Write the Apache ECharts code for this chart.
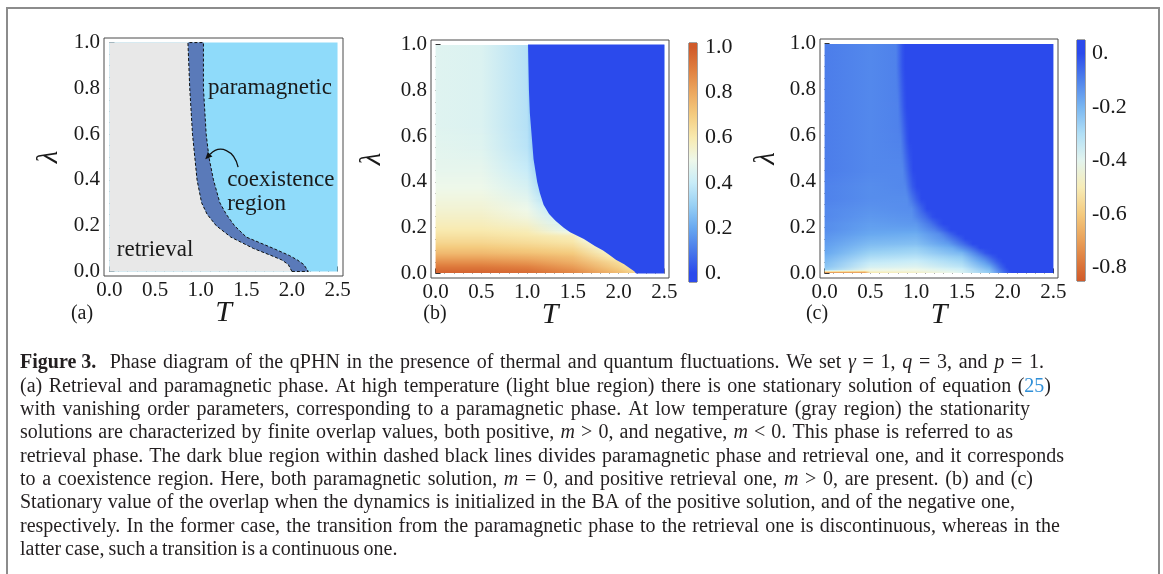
<!DOCTYPE html>
<html>
<head>
<meta charset="utf-8">
<title>Figure 3</title>
<script src="https://cdn.jsdelivr.net/npm/echarts@6.0.0/dist/echarts.min.js"></script>
<style>
  html, body { margin: 0; padding: 0; background: #fff; }
  #chart { width: 1163px; height: 574px; }
</style>
</head>
<body>
<div id="chart"></div>
<script>
var FONT = 'Liberation Serif';

// ticks of the T and lambda frames
var xTicks = [0, 0.5, 1, 1.5, 2, 2.5];
var xMinor = [0.1, 0.2, 0.3, 0.4, 0.6, 0.7, 0.8, 0.9, 1.1, 1.2, 1.3, 1.4, 1.6, 1.7, 1.8, 1.9, 2.1, 2.2, 2.3, 2.4];
var yTicks = [0, 0.2, 0.4, 0.6, 0.8, 1];
var yMinor = [0.05, 0.1, 0.15, 0.25, 0.3, 0.35, 0.45, 0.5, 0.55, 0.65, 0.7, 0.75, 0.85, 0.9, 0.95];
var cbTicksB = [0, 0.2, 0.4, 0.6, 0.8, 1];
var cbTicksC = [-0.8, -0.6, -0.4, -0.2, 0];

// (a) coexistence band: T of its left / right edge at each lambda
var lamA   = [0,    0.03, 0.05, 0.07, 0.10, 0.15, 0.20, 0.25, 0.30, 0.40, 0.50,  0.60, 0.80, 1.00];
var leftA  = [2.00, 1.96, 1.89, 1.77, 1.58, 1.33, 1.17, 1.07, 1.01, 0.96, 0.935, 0.91, 0.88, 0.86];
var rightA = [2.18, 2.13, 2.06, 1.97, 1.80, 1.50, 1.37, 1.28, 1.21, 1.14, 1.09,  1.06, 1.03, 1.03];

// (b) edge of the m = 0 region, and overlap m in strips between successive lambdas
var lamB  = [0, 0.01, 0.02, 0.04, 0.06, 0.08, 0.10, 0.12, 0.15, 0.18, 0.20, 0.23, 0.26, 0.30, 0.35, 0.40, 0.50, 0.60, 0.70, 0.80, 0.90, 1.00];
var edgeB = [2.19, 2.17, 2.13, 2.06, 1.97, 1.90, 1.83, 1.74, 1.62, 1.47, 1.40, 1.31, 1.24, 1.18, 1.14, 1.11, 1.07, 1.05, 1.03, 1.02, 1.015, 1.01];
var nodesB = [0, 0.5, 1.0, 1.5, 2.0];   // last column of mB = value at the edge
var mB = [
  [0.97, 0.97, 0.95, 0.88, 0.74, 0.66],
  [0.95, 0.95, 0.93, 0.86, 0.71, 0.64],
  [0.92, 0.92, 0.90, 0.83, 0.68, 0.62],
  [0.86, 0.86, 0.84, 0.78, 0.64, 0.60],
  [0.80, 0.80, 0.78, 0.74, null, 0.58],
  [0.75, 0.75, 0.73, 0.70, null, 0.56],
  [0.71, 0.71, 0.69, 0.66, null, 0.54],
  [0.67, 0.67, 0.65, 0.62, null, 0.52],
  [0.63, 0.63, 0.61, 0.58, null, 0.49],
  [0.60, 0.60, 0.58, null, null, 0.46],
  [0.58, 0.58, 0.55, null, null, 0.44],
  [0.56, 0.56, 0.52, null, null, 0.42],
  [0.54, 0.54, 0.50, null, null, 0.40],
  [0.52, 0.52, 0.47, null, null, 0.37],
  [0.50, 0.50, 0.44, null, null, 0.35],
  [0.48, 0.48, 0.40, null, null, 0.32],
  [0.47, 0.46, 0.37, null, null, 0.30],
  [0.46, 0.45, 0.36, null, null, 0.30],
  [0.46, 0.45, 0.36, null, null, 0.30],
  [0.46, 0.45, 0.36, null, null, 0.30],
  [0.46, 0.45, 0.36, null, null, 0.30]
];

// (c) overlap m as [T, m] pairs, one list per lambda strip
var lamC = [0, 0.006, 0.02, 0.04, 0.06, 0.08, 0.10, 0.12, 0.14, 0.16, 0.18, 0.20, 0.23, 0.26, 0.30, 0.35, 0.40, 0.50, 0.65, 0.80, 1.00];
var mC = [
  [[0, -0.78], [0.44, -0.74], [0.5, -0.52], [1.0, -0.48], [1.4, -0.42], [1.8, -0.25], [1.98, -0.05], [2.05, 0]],
  [[0, -0.26], [0.5, -0.42], [1.0, -0.43], [1.5, -0.36], [1.8, -0.22], [1.95, -0.05], [2.02, 0]],
  [[0, -0.23], [0.5, -0.37], [1.0, -0.39], [1.5, -0.32], [1.8, -0.18], [1.92, -0.05], [1.99, 0]],
  [[0, -0.21], [0.5, -0.33], [1.0, -0.35], [1.5, -0.28], [1.75, -0.15], [1.88, -0.04], [1.95, 0]],
  [[0, -0.19], [0.5, -0.29], [1.0, -0.31], [1.5, -0.24], [1.7, -0.12], [1.83, -0.03], [1.9, 0]],
  [[0, -0.17], [0.5, -0.26], [1.0, -0.28], [1.5, -0.20], [1.65, -0.10], [1.76, -0.02], [1.83, 0]],
  [[0, -0.16], [0.5, -0.23], [1.0, -0.25], [1.4, -0.18], [1.58, -0.08], [1.7, 0]],
  [[0, -0.15], [0.5, -0.21], [1.0, -0.22], [1.35, -0.15], [1.52, -0.06], [1.62, 0]],
  [[0, -0.14], [0.5, -0.19], [1.0, -0.20], [1.3, -0.13], [1.45, -0.05], [1.54, 0]],
  [[0, -0.13], [0.5, -0.17], [1.0, -0.18], [1.25, -0.12], [1.38, -0.04], [1.46, 0]],
  [[0, -0.12], [0.5, -0.16], [1.0, -0.16], [1.2, -0.10], [1.32, -0.03], [1.38, 0]],
  [[0, -0.12], [0.5, -0.15], [1.0, -0.14], [1.15, -0.08], [1.25, -0.02], [1.3, 0]],
  [[0, -0.11], [0.5, -0.14], [0.95, -0.13], [1.1, -0.06], [1.18, -0.01], [1.22, 0]],
  [[0, -0.11], [0.5, -0.13], [0.95, -0.12], [1.05, -0.05], [1.12, 0]],
  [[0, -0.10], [0.5, -0.12], [0.9, -0.12], [1.0, -0.04], [1.06, 0]],
  [[0, -0.10], [0.5, -0.12], [0.88, -0.11], [0.96, -0.03], [1.01, 0]],
  [[0, -0.09], [0.5, -0.11], [0.85, -0.11], [0.93, -0.03], [0.97, 0]],
  [[0, -0.09], [0.5, -0.11], [0.83, -0.10], [0.9, -0.02], [0.93, 0]],
  [[0, -0.09], [0.5, -0.11], [0.8, -0.10], [0.87, -0.02], [0.9, 0]],
  [[0, -0.09], [0.5, -0.11], [0.78, -0.10], [0.85, -0.02], [0.88, 0]]
];

// colour bar samples
var cbValsB = [-0.04, 0, 0.1, 0.2, 0.3, 0.4, 0.5, 0.6, 0.7, 0.8, 0.9, 1.0, 1.02];
var cbValsC = [-0.85, -0.8, -0.7, -0.6, -0.5, -0.4, -0.3, -0.2, -0.1, 0, 0.05];

// Mathematica-like TemperatureMap
var tempMap = [
  [0.0, '#2b4aec'], [0.1, '#4a7aea'], [0.2, '#68a8f0'], [0.3, '#98d0f4'], [0.4, '#c8ecf8'],
  [0.5, '#eef8ea'], [0.6, '#f8eab0'], [0.7, '#f4cc80'], [0.8, '#eca860'], [0.9, '#e08040'], [1.0, '#d05a2a']
];

var colA = { para: '#8fdbfa', retr: '#e8e8e8', band: '#5a7ab9' };

function rgbOf(h) {
  return [parseInt(h.substr(1, 2), 16), parseInt(h.substr(3, 2), 16), parseInt(h.substr(5, 2), 16)];
}
function tempColor(t) {
  t = Math.max(0, Math.min(1, t));
  for (var i = 1; i < tempMap.length; i++) {
    if (t <= tempMap[i][0]) {
      var a = tempMap[i - 1], b = tempMap[i];
      var f = (t - a[0]) / (b[0] - a[0]);
      var ca = rgbOf(a[1]), cb = rgbOf(b[1]);
      return 'rgb(' + [0, 1, 2].map(function (k) { return Math.round(ca[k] + f * (cb[k] - ca[k])); }).join(',') + ')';
    }
  }
  return tempMap[tempMap.length - 1][1];
}
function colorB(m) { return tempColor(m); }
function colorC(m) { return tempColor(-m / 0.85); }

var frames = [
  { left: 104, top: 38, width: 239, height: 238, xMin: -0.06, xMax: 2.56, lamGap: 40 },
  { left: 431, top: 40, width: 238, height: 238, xMin: -0.05, xMax: 2.55, lamGap: 44 },
  { left: 820, top: 39, width: 238, height: 239, xMin: -0.05, xMax: 2.55, lamGap: 39 }
];

var grids = [], xAxes = [], yAxes = [];
var tickLine = { color: '#333', width: 1 };
var labelStyle = { fontFamily: FONT, fontSize: 21, color: '#1a1a1a' };

frames.forEach(function (f, g) {
  grids.push({ left: f.left, top: f.top, width: f.width, height: f.height, show: true,
    borderColor: '#4a4a4a', borderWidth: 1, backgroundColor: 'transparent', outerBoundsMode: 'none' });
  xAxes.push({
    type: 'value', gridIndex: g, min: f.xMin, max: f.xMax, position: 'bottom',
    axisLine: { show: false }, splitLine: { show: false },
    axisTick: { show: true, inside: true, length: 5, customValues: xTicks, lineStyle: tickLine },
    axisLabel: Object.assign({ customValues: xTicks, margin: 4, formatter: function (v) { return v.toFixed(1); } }, labelStyle),
    name: 'T', nameLocation: 'middle', nameGap: 22, nameMoveOverlap: false,
    nameTextStyle: { fontFamily: FONT, fontSize: 30, fontStyle: 'italic', color: '#1a1a1a' }
  });
  xAxes.push({
    type: 'value', gridIndex: g, min: f.xMin, max: f.xMax, position: 'bottom',
    axisLine: { show: false }, splitLine: { show: false }, axisLabel: { show: false },
    axisTick: { show: true, inside: true, length: 3, customValues: xMinor, lineStyle: tickLine }
  });
  yAxes.push({
    type: 'value', gridIndex: g, min: -0.02, max: 1.02, position: 'left',
    axisLine: { show: false }, splitLine: { show: false },
    axisTick: { show: true, inside: true, length: 5, customValues: yTicks, lineStyle: tickLine },
    axisLabel: Object.assign({ customValues: yTicks, margin: 4, formatter: function (v) { return v.toFixed(1); } }, labelStyle),
    name: 'λ', nameLocation: 'middle', nameRotate: 90, nameGap: f.lamGap, nameMoveOverlap: false,
    nameTextStyle: { fontFamily: FONT, fontSize: 29, fontStyle: 'italic', color: '#1a1a1a' }
  });
  yAxes.push({
    type: 'value', gridIndex: g, min: -0.02, max: 1.02, position: 'left',
    axisLine: { show: false }, splitLine: { show: false }, axisLabel: { show: false },
    axisTick: { show: true, inside: true, length: 3, customValues: yMinor, lineStyle: tickLine }
  });
});

// colour bars (grids 3 and 4)
grids.push({ left: 689, top: 43, width: 8, height: 239, show: true, borderColor: '#444', borderWidth: 1, outerBoundsMode: 'none' });
grids.push({ left: 1077, top: 40, width: 8, height: 241, show: true, borderColor: '#444', borderWidth: 1, outerBoundsMode: 'none' });
[3, 4].forEach(function (g) {
  xAxes.push({ type: 'value', gridIndex: g, min: 0, max: 1, show: false });
});
function cbLabel(v) { return v === 0 ? '0.' : v.toFixed(1); }
yAxes.push({
  type: 'value', gridIndex: 3, min: cbValsB[0], max: cbValsB[cbValsB.length - 1], position: 'right',
  axisLine: { show: false }, splitLine: { show: false }, axisTick: { show: false },
  axisLabel: { customValues: cbTicksB, margin: 8, formatter: cbLabel, fontFamily: FONT, fontSize: 22, color: '#1a1a1a' }
});
yAxes.push({
  type: 'value', gridIndex: 4, min: cbValsC[0], max: cbValsC[cbValsC.length - 1], position: 'right',
  axisLine: { show: false }, splitLine: { show: false }, axisTick: { show: false },
  axisLabel: { customValues: cbTicksC, margin: 7, formatter: cbLabel, fontFamily: FONT, fontSize: 22, color: '#1a1a1a' }
});

function polySeries(g, pts, style) {
  return {
    type: 'custom', xAxisIndex: 2 * g, yAxisIndex: 2 * g, silent: true,
    data: [[pts[0][0], pts[0][1]]],
    renderItem: function (params, api) {
      return { type: 'polygon', shape: { points: pts.map(function (p) { return api.coord(p); }) }, style: style };
    }
  };
}

// value of one strip row at T (straight segments between the read points)
function rowValue(pairs, T) {
  if (T <= pairs[0][0]) return pairs[0][1];
  for (var k = 1; k < pairs.length; k++) {
    if (T <= pairs[k][0]) {
      var a = pairs[k - 1], b = pairs[k];
      return a[1] + (b[1] - a[1]) * (T - a[0]) / (b[0] - a[0]);
    }
  }
  return pairs[pairs.length - 1][1];
}

// density field: rows sit at strip centres, shading runs smoothly between them
function fieldSeries(g, lams, rows, colorFn) {
  var mids = rows.map(function (r, i) { return (lams[i] + lams[i + 1]) / 2; });
  return {
    type: 'custom', xAxisIndex: 2 * g, yAxisIndex: 2 * g, silent: true,
    data: rows.map(function (r, i) { return [0, mids[i]]; }),
    renderItem: function (params, api) {
      var i = params.dataIndex, n = rows.length, kids = [];
      var x0 = api.coord([0, 0])[0], x1 = api.coord([2.5, 0])[0];
      function band(y0, y1, A, B) {
        var Ts = [0, 2.5];
        A.concat(B).forEach(function (p) { if (Ts.indexOf(p[0]) < 0) Ts.push(p[0]); });
        Ts.sort(function (u, v) { return u - v; });
        var yPix0 = Math.round(api.coord([0, y0])[1]), yPix1 = Math.round(api.coord([0, y1])[1]);
        for (var py = yPix0; py > yPix1; py--) {
          var f = (yPix0 - py + 0.5) / (yPix0 - yPix1);
          var stops = Ts.map(function (T) {
            return { offset: T / 2.5, color: colorFn((1 - f) * rowValue(A, T) + f * rowValue(B, T)) };
          });
          kids.push({ type: 'rect', shape: { x: x0, y: py - 1, width: x1 - x0, height: 1 },
            style: { fill: new echarts.graphic.LinearGradient(x0, 0, x1, 0, stops, true) } });
        }
      }
      if (i === 0) band(0, mids[0], rows[0], rows[0]);
      if (i < n - 1) band(mids[i], mids[i + 1], rows[i], rows[i + 1]);
      else band(mids[i], 1, rows[i], rows[i]);
      return { type: 'group', children: kids };
    }
  };
}

// (b) rows as [T, m] pairs: read nodes left of the edge, then the edge value
var rowsB = mB.map(function (row, i) {
  var tEnd = Math.max(edgeB[i], edgeB[i + 1]), pairs = [];
  nodesB.forEach(function (T, k) { if (row[k] !== null && T < tEnd) pairs.push([T, row[k]]); });
  pairs.push([tEnd, row[nodesB.length]]);
  return pairs;
});

// (a) regions
var retrievalPts = [[0, 0]];
lamA.forEach(function (l, i) { retrievalPts.push([leftA[i], l]); });
retrievalPts.push([0, 1]);
var bandPts = [];
lamA.forEach(function (l, i) { bandPts.push([leftA[i], l]); });
for (var i = lamA.length - 1; i >= 0; i--) bandPts.push([rightA[i], lamA[i]]);

// (b) m = 0 region
var paraB = [];
lamB.forEach(function (l, i) { paraB.push([edgeB[i], l]); });
paraB.push([2.5, 1], [2.5, 0]);

function colourBarSeries(axisIdx, vals, colorFn) {
  return {
    type: 'custom', xAxisIndex: axisIdx, yAxisIndex: axisIdx, silent: true,
    data: vals.slice(0, -1).map(function (v) { return [0, v]; }),
    renderItem: function (params, api) {
      var i = params.dataIndex;
      var p0 = api.coord([0, vals[i]]), p1 = api.coord([1, vals[i + 1]]);
      var yb = Math.round(p0[1]), yt = Math.round(p1[1]);
      return { type: 'rect', shape: { x: p0[0], y: yt, width: p1[0] - p0[0], height: yb - yt },
        style: { fill: new echarts.graphic.LinearGradient(0, p0[1], 0, p1[1],
          [{ offset: 0, color: colorFn(vals[i]) }, { offset: 1, color: colorFn(vals[i + 1]) }], true) } };
    }
  };
}

var series = [
  polySeries(0, [[0, 0], [2.5, 0], [2.5, 1], [0, 1]], { fill: colA.para }),
  polySeries(0, retrievalPts, { fill: colA.retr }),
  polySeries(0, bandPts, { fill: colA.band, stroke: '#111', lineWidth: 1, lineDash: [3, 2] }),
  fieldSeries(1, lamB, rowsB, colorB),
  polySeries(1, paraB, { fill: colorB(0) }),
  fieldSeries(2, lamC, mC, colorC),
  colourBarSeries(6, cbValsB, colorB),
  colourBarSeries(7, cbValsC, colorC)
];

var captionLines = [
  '{b|Figure 3.}  Phase diagram of the qPHN in the presence of thermal and quantum fluctuations. We set {i|γ} = 1, {i|q} = 3, and {i|p} = 1.',
  '(a) Retrieval and paramagnetic phase. At high temperature (light blue region) there is one stationary solution of equation ({l|25})',
  'with vanishing order parameters, corresponding to a paramagnetic phase. At low temperature (gray region) the stationarity',
  'solutions are characterized by finite overlap values, both positive, {i|m} > 0, and negative, {i|m} < 0. This phase is referred to as',
  'retrieval phase. The dark blue region within dashed black lines divides paramagnetic phase and retrieval one, and it corresponds',
  'to a coexistence region. Here, both paramagnetic solution, {i|m} = 0, and positive retrieval one, {i|m} > 0, are present. (b) and (c)',
  'Stationary value of the overlap when the dynamics is initialized in the BA of the positive solution, and of the negative one,',
  'respectively. In the former case, the transition from the paramagnetic phase to the retrieval one is discontinuous, whereas in the',
  'latter case, such a transition is a continuous one.'
];
var captionEnds = [1044, 1051, 1030, 1013, 1064, 1033, 1015, 1060, 387];

var chart = echarts.init(document.getElementById('chart'));
chart.setOption({
  animation: false,
  grid: grids,
  xAxis: xAxes,
  yAxis: yAxes,
  series: series
});

function pxA(p) { return chart.convertToPixel({ seriesIndex: 0 }, p); }

// caption: word gaps adjusted so each printed line keeps its length
var capText = '#231f20', CAP = 20, CAP_X = 20;
var capFonts = { '': CAP + 'px "' + FONT + '"', b: 'bold ' + CAP + 'px "' + FONT + '"',
  i: 'italic ' + CAP + 'px "' + FONT + '"', l: CAP + 'px "' + FONT + '"' };
var mctx = document.createElement('canvas').getContext('2d');
function tokens(line) {
  var out = [], re = /\{(\w)\|([^}]*)\}/g, last = 0, m;
  while ((m = re.exec(line))) {
    if (m.index > last) out.push({ tag: '', text: line.slice(last, m.index) });
    out.push({ tag: m[1], text: m[2] });
    last = re.lastIndex;
  }
  if (last < line.length) out.push({ tag: '', text: line.slice(last) });
  return out;
}
function spacedLine(line, end) {
  var toks = tokens(line), w = 0, nSp = 0;
  toks.forEach(function (t) {
    mctx.font = capFonts[t.tag];
    w += mctx.measureText(t.text).width;
    if (!t.tag) nSp += (t.text.match(/ /g) || []).length;
  });
  mctx.font = capFonts[''];
  var sp = mctx.measureText(' ').width;
  var extra = nSp ? Math.max(-1, (end - CAP_X - w) / nSp) : 0;
  var text = toks.map(function (t) {
    return t.tag ? '{' + t.tag + '|' + t.text + '}' : t.text.split(' ').join('{s| }');
  }).join('');
  return { text: text, space: sp + extra };
}

var graphics = [
  { type: 'rect', silent: true, shape: { x: 7, y: 8, width: 1152, height: 600 },
    style: { fill: 'transparent', stroke: '#8c8c8c', lineWidth: 2 } }
];
[['(a)', 82], ['(b)', 435], ['(c)', 817]].forEach(function (p) {
  graphics.push({ type: 'text', silent: true, z: 10, style: { text: p[0], x: p[1], y: 314, align: 'center', verticalAlign: 'middle',
    fontFamily: FONT, fontSize: 20, fill: '#1a1a1a' } });
});
captionLines.forEach(function (line, k) {
  var sl = spacedLine(line, captionEnds[k]);
  graphics.push({ type: 'text', silent: true, z: 10, style: {
    text: sl.text, x: CAP_X, y: 363 + k * 23.35, verticalAlign: 'middle',
    fontFamily: FONT, fontSize: CAP, fill: capText,
    rich: {
      s: { fontFamily: FONT, fontSize: CAP, width: sl.space, fill: capText },
      b: { fontFamily: FONT, fontSize: CAP, fontWeight: 'bold', fill: capText },
      i: { fontFamily: FONT, fontSize: CAP, fontStyle: 'italic', fill: capText },
      l: { fontFamily: FONT, fontSize: CAP, fill: '#2f8fd8' }
    }
  } });
});

// (a) annotations
[['paramagnetic', [1.08, 0.80]], ['coexistence', [1.29, 0.40]], ['region', [1.29, 0.295]], ['retrieval', [0.08, 0.094]]]
  .forEach(function (a) {
    var p = pxA(a[1]);
    graphics.push({ type: 'text', silent: true, z: 10, style: { text: a[0], x: p[0], y: p[1], verticalAlign: 'middle',
      fontFamily: FONT, fontSize: 23, fill: '#1a1a1a' } });
  });
var aTail = pxA([1.41, 0.456]), aC1 = pxA([1.37, 0.53]), aC2 = pxA([1.21, 0.556]), aHead = pxA([1.05, 0.49]);
var dx = aHead[0] - aC2[0], dy = aHead[1] - aC2[1], dl = Math.sqrt(dx * dx + dy * dy);
dx /= dl; dy /= dl;
var base = [aHead[0] - 7 * dx, aHead[1] - 7 * dy];
graphics.push({ type: 'bezierCurve', silent: true, z: 10,
  shape: { x1: aTail[0], y1: aTail[1], cpx1: aC1[0], cpy1: aC1[1], cpx2: aC2[0], cpy2: aC2[1], x2: base[0], y2: base[1] },
  style: { stroke: '#111', lineWidth: 1.3, fill: null } });
graphics.push({ type: 'polygon', silent: true, z: 10,
  shape: { points: [aHead, [base[0] - 3.2 * dy, base[1] + 3.2 * dx], [base[0] + 3.2 * dy, base[1] - 3.2 * dx]] },
  style: { fill: '#111' } });

chart.setOption({ graphic: graphics });
</script>
</body>
</html>
